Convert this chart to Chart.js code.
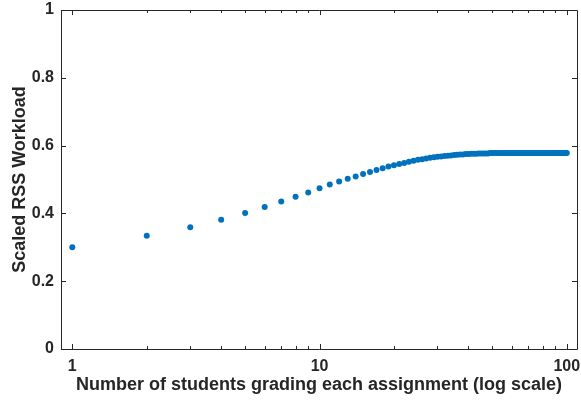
<!DOCTYPE html>
<html>
<head>
<meta charset="utf-8">
<script src="https://cdn.jsdelivr.net/npm/chart.js@4"></script>
<style>
html,body{margin:0;padding:0;background:#fff;}
#wrap{width:581px;height:402px;}
</style>
</head>
<body>
<div id="wrap"><canvas id="c" width="581" height="402"></canvas></div>
<script>
// Number of students grading each assignment (1..100)
const students = [
  1,2,3,4,5,6,7,8,9,10,
  11,12,13,14,15,16,17,18,19,20,
  21,22,23,24,25,26,27,28,29,30,
  31,32,33,34,35,36,37,38,39,40,
  41,42,43,44,45,46,47,48,49,50,
  51,52,53,54,55,56,57,58,59,60,
  61,62,63,64,65,66,67,68,69,70,
  71,72,73,74,75,76,77,78,79,80,
  81,82,83,84,85,86,87,88,89,90,
  91,92,93,94,95,96,97,98,99,100
];
// Scaled RSS workload
const workload = [
  0.300,0.334,0.359,0.381,0.401,0.419,0.435,0.449,0.462,0.474,
  0.485,0.494,0.502,0.509,0.516,0.522,0.528,0.533,0.538,0.542,
  0.546,0.549,0.552,0.555,0.558,0.560,0.562,0.564,0.566,0.567,
  0.568,0.569,0.570,0.571,0.572,0.573,0.574,0.574,0.575,0.575,
  0.576,0.576,0.576,0.577,0.577,0.577,0.577,0.577,0.578,0.578,
  0.578,0.578,0.578,0.578,0.578,0.578,0.578,0.578,0.578,0.578,
  0.578,0.578,0.578,0.578,0.578,0.578,0.578,0.578,0.578,0.578,
  0.578,0.578,0.578,0.578,0.578,0.578,0.578,0.578,0.578,0.578,
  0.578,0.578,0.578,0.578,0.578,0.578,0.578,0.578,0.578,0.578,
  0.578,0.578,0.578,0.578,0.578,0.578,0.578,0.578,0.578,0.578
];
const xMajorTicks = [1, 10, 100];
const xMinorTicks = [2,3,4,5,6,7,8,9,20,30,40,50,60,70,80,90];
const yTicks = [0, 0.2, 0.4, 0.6, 0.8, 1];
const xTitle = 'Number of students grading each assignment (log scale)';
const yTitle = 'Scaled RSS Workload';

const AX = '#262626';
const FONT = 'Liberation Sans, Arial, Helvetica, sans-serif';

const boxTicks = {
  id: 'boxTicks',
  afterDatasetsDraw(chart) {
    const {ctx, chartArea: a, scales: {x, y}} = chart;
    ctx.save();
    ctx.strokeStyle = AX;
    ctx.lineWidth = 1;
    ctx.beginPath();
    ctx.rect(Math.round(a.left) + 0.5, Math.round(a.top) + 0.5,
             Math.round(a.right - a.left), Math.round(a.bottom - a.top));
    ctx.stroke();
    ctx.beginPath();
    const tickX = (v, len) => {
      const px = Math.round(x.getPixelForValue(v)) + 0.5;
      ctx.moveTo(px, a.bottom); ctx.lineTo(px, a.bottom - len);
      ctx.moveTo(px, a.top); ctx.lineTo(px, a.top + len);
    };
    xMajorTicks.forEach(v => tickX(v, 5));
    xMinorTicks.forEach(v => tickX(v, 3));
    yTicks.forEach(v => {
      const py = Math.round(y.getPixelForValue(v)) + 0.5;
      ctx.moveTo(a.left, py); ctx.lineTo(a.left + 5, py);
      ctx.moveTo(a.right, py); ctx.lineTo(a.right - 5, py);
    });
    ctx.stroke();
    ctx.restore();
  }
};

new Chart(document.getElementById('c'), {
  type: 'scatter',
  data: {
    datasets: [{
      data: students.map((s, i) => ({x: s, y: workload[i]})),
      backgroundColor: '#0072BD',
      borderColor: '#0072BD',
      borderWidth: 0,
      pointRadius: 3,
      pointHoverRadius: 3,
      showLine: false
    }]
  },
  options: {
    responsive: false,
    animation: false,
    devicePixelRatio: 1,
    layout: {padding: {top: 10, right: 4, left: 0, bottom: 0}},
    plugins: {legend: {display: false}, tooltip: {enabled: false}},
    scales: {
      x: {
        type: 'logarithmic',
        min: 0.9, max: 110,
        grid: {display: false, drawTicks: false},
        border: {display: false},
        afterBuildTicks: s => { s.ticks = xMajorTicks.map(v => ({value: v, major: true})); },
        afterFit: s => { s.height = 402 - 349; s.paddingLeft = 0; s.paddingRight = 0; },
        ticks: {
          color: AX, padding: 8, maxRotation: 0, autoSkip: false,
          font: {family: FONT, size: 16, weight: 'bold'},
          callback: v => String(v)
        },
        title: {
          display: true, text: xTitle, color: AX,
          font: {family: FONT, size: 18, weight: 'bold'},
          padding: {top: 0, bottom: 6}
        }
      },
      y: {
        min: 0, max: 1,
        grid: {display: false, drawTicks: false},
        border: {display: false},
        afterBuildTicks: s => { s.ticks = yTicks.map(v => ({value: v})); },
        afterFit: s => { s.width = 61; s.paddingTop = 0; s.paddingBottom = 0; },
        ticks: {
          color: AX, padding: 7,
          font: {family: FONT, size: 16, weight: 'bold'},
          callback: v => String(v)
        },
        title: {
          display: true, text: yTitle, color: AX,
          font: {family: FONT, size: 18, weight: 'bold'},
          padding: {top: 9, bottom: 0}
        }
      }
    }
  },
  plugins: [boxTicks]
});
</script>
</body>
</html>
